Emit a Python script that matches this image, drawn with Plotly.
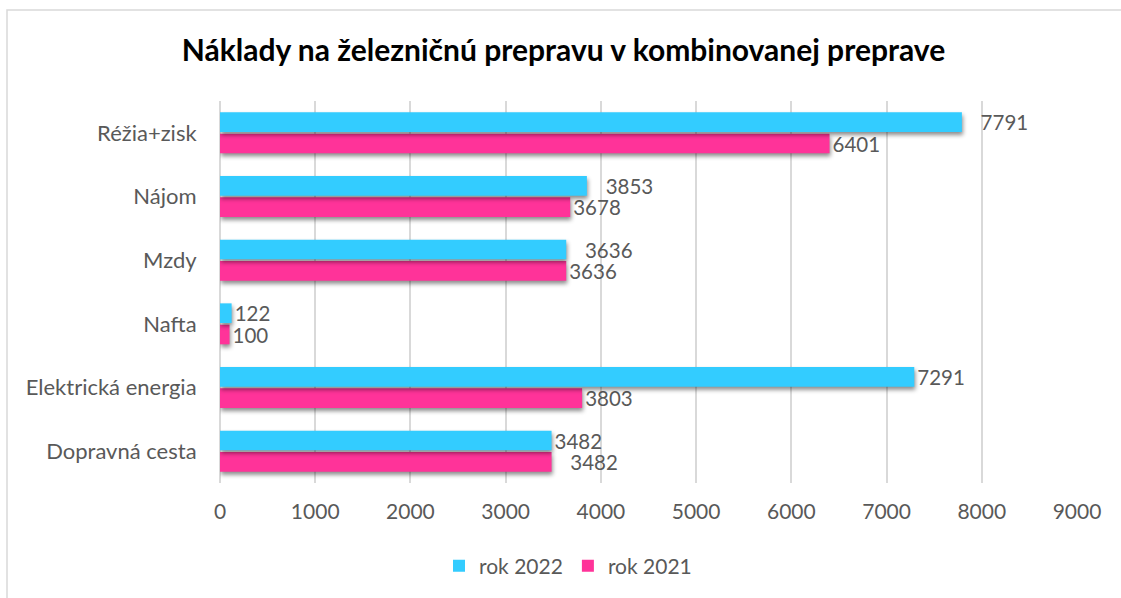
import plotly.graph_objects as go

categories = ["Dopravná cesta", "Elektrická energia", "Nafta", "Mzdy", "Nájom", "Réžia+zisk"]
rok_2022 = [3482, 7291, 122, 3636, 3853, 7791]
rok_2021 = [3482, 3803, 100, 3636, 3678, 6401]
x_ticks = [0, 1000, 2000, 3000, 4000, 5000, 6000, 7000, 8000, 9000]

FONT = "Lato"
TXT = "#595959"
NUM = 20.5
NB = "\u00a0"

# labels that the original chart nudges a little further from the bar end
nudge_2022 = {"Mzdy", "Nájom", "Réžia+zisk"}
nudge_2021 = {"Dopravná cesta"}

def labels(values, nudged):
    return [(NB * 3 if c in nudged else "") + str(v) for c, v in zip(categories, values)]

fig = go.Figure()
fig.add_trace(go.Bar(
    y=categories, x=rok_2021, orientation="h", name="rok 2021",
    marker=dict(color="#FF3399", line=dict(width=0)),
    text=labels(rok_2021, nudge_2021), textposition="outside", constraintext="none",
    textfont=dict(family=FONT, size=NUM, color=TXT), cliponaxis=False,
))
fig.add_trace(go.Bar(
    y=categories, x=rok_2022, orientation="h", name="rok 2022",
    marker=dict(color="#33CCFF", line=dict(width=0)),
    text=labels(rok_2022, nudge_2022), textposition="outside", constraintext="none",
    textfont=dict(family=FONT, size=NUM, color=TXT), cliponaxis=False,
))

L, R, T, B = 220, 44, 101, 115
W, H = 1121, 598
pw, ph = W - L - R, H - T - B

def px_x(x):
    return (x - L) / pw

def px_y(y):
    return 1 - (y - T) / ph

fig.update_layout(
    width=W, height=H,
    margin=dict(l=L, r=R, t=T, b=B, autoexpand=False),
    paper_bgcolor="white", plot_bgcolor="white",
    barmode="group", bargap=0.33, bargroupgap=0.08,
    title=dict(text="<b>Náklady na železničnú prepravu v kombinovanej preprave</b>",
               x=563.5 / W, xanchor="center", y=1 - 50 / H, yanchor="middle",
               font=dict(family=FONT, size=30, color="#000000"), automargin=False),
    font=dict(family=FONT, size=NUM, color=TXT),
    xaxis=dict(range=[0, 9000], tickvals=x_ticks, ticktext=[str(t) for t in x_ticks],
               showgrid=True, gridcolor="#D9D9D9", gridwidth=1.5, zeroline=True,
               zerolinecolor="#D9D9D9", zerolinewidth=2, showline=False, automargin=False,
               tickfont=dict(family=FONT, size=21, color=TXT),
               ticks="outside", ticklen=10, tickcolor="rgba(0,0,0,0)"),
    yaxis=dict(showgrid=False, showline=False, automargin=False,
               ticks="outside", ticklen=18, tickcolor="rgba(0,0,0,0)",
               tickfont=dict(family=FONT, size=22, color=TXT)),
    legend=dict(orientation="h", x=px_x(568), xanchor="center", y=px_y(566),
                yanchor="middle", traceorder="reversed",
                font=dict(family=FONT, size=21, color=TXT)),
    showlegend=True,
)

# chart border
fig.add_shape(type="rect", xref="paper", yref="paper",
              x0=px_x(7), x1=px_x(W + 5), y0=px_y(H + 5), y1=px_y(10),
              line=dict(color="#D9D9D9", width=1.5), fillcolor="rgba(0,0,0,0)", layer="below")

post = """
document.body.style.margin='0';
document.body.style.overflow='hidden';
document.querySelectorAll('.barlayer .point path').forEach(function(p){
  p.style.filter='drop-shadow(1px 3px 2px rgba(0,0,0,0.45))';
});
"""

fig.write_html("out.html", config={"displayModeBar": False}, post_script=post)
